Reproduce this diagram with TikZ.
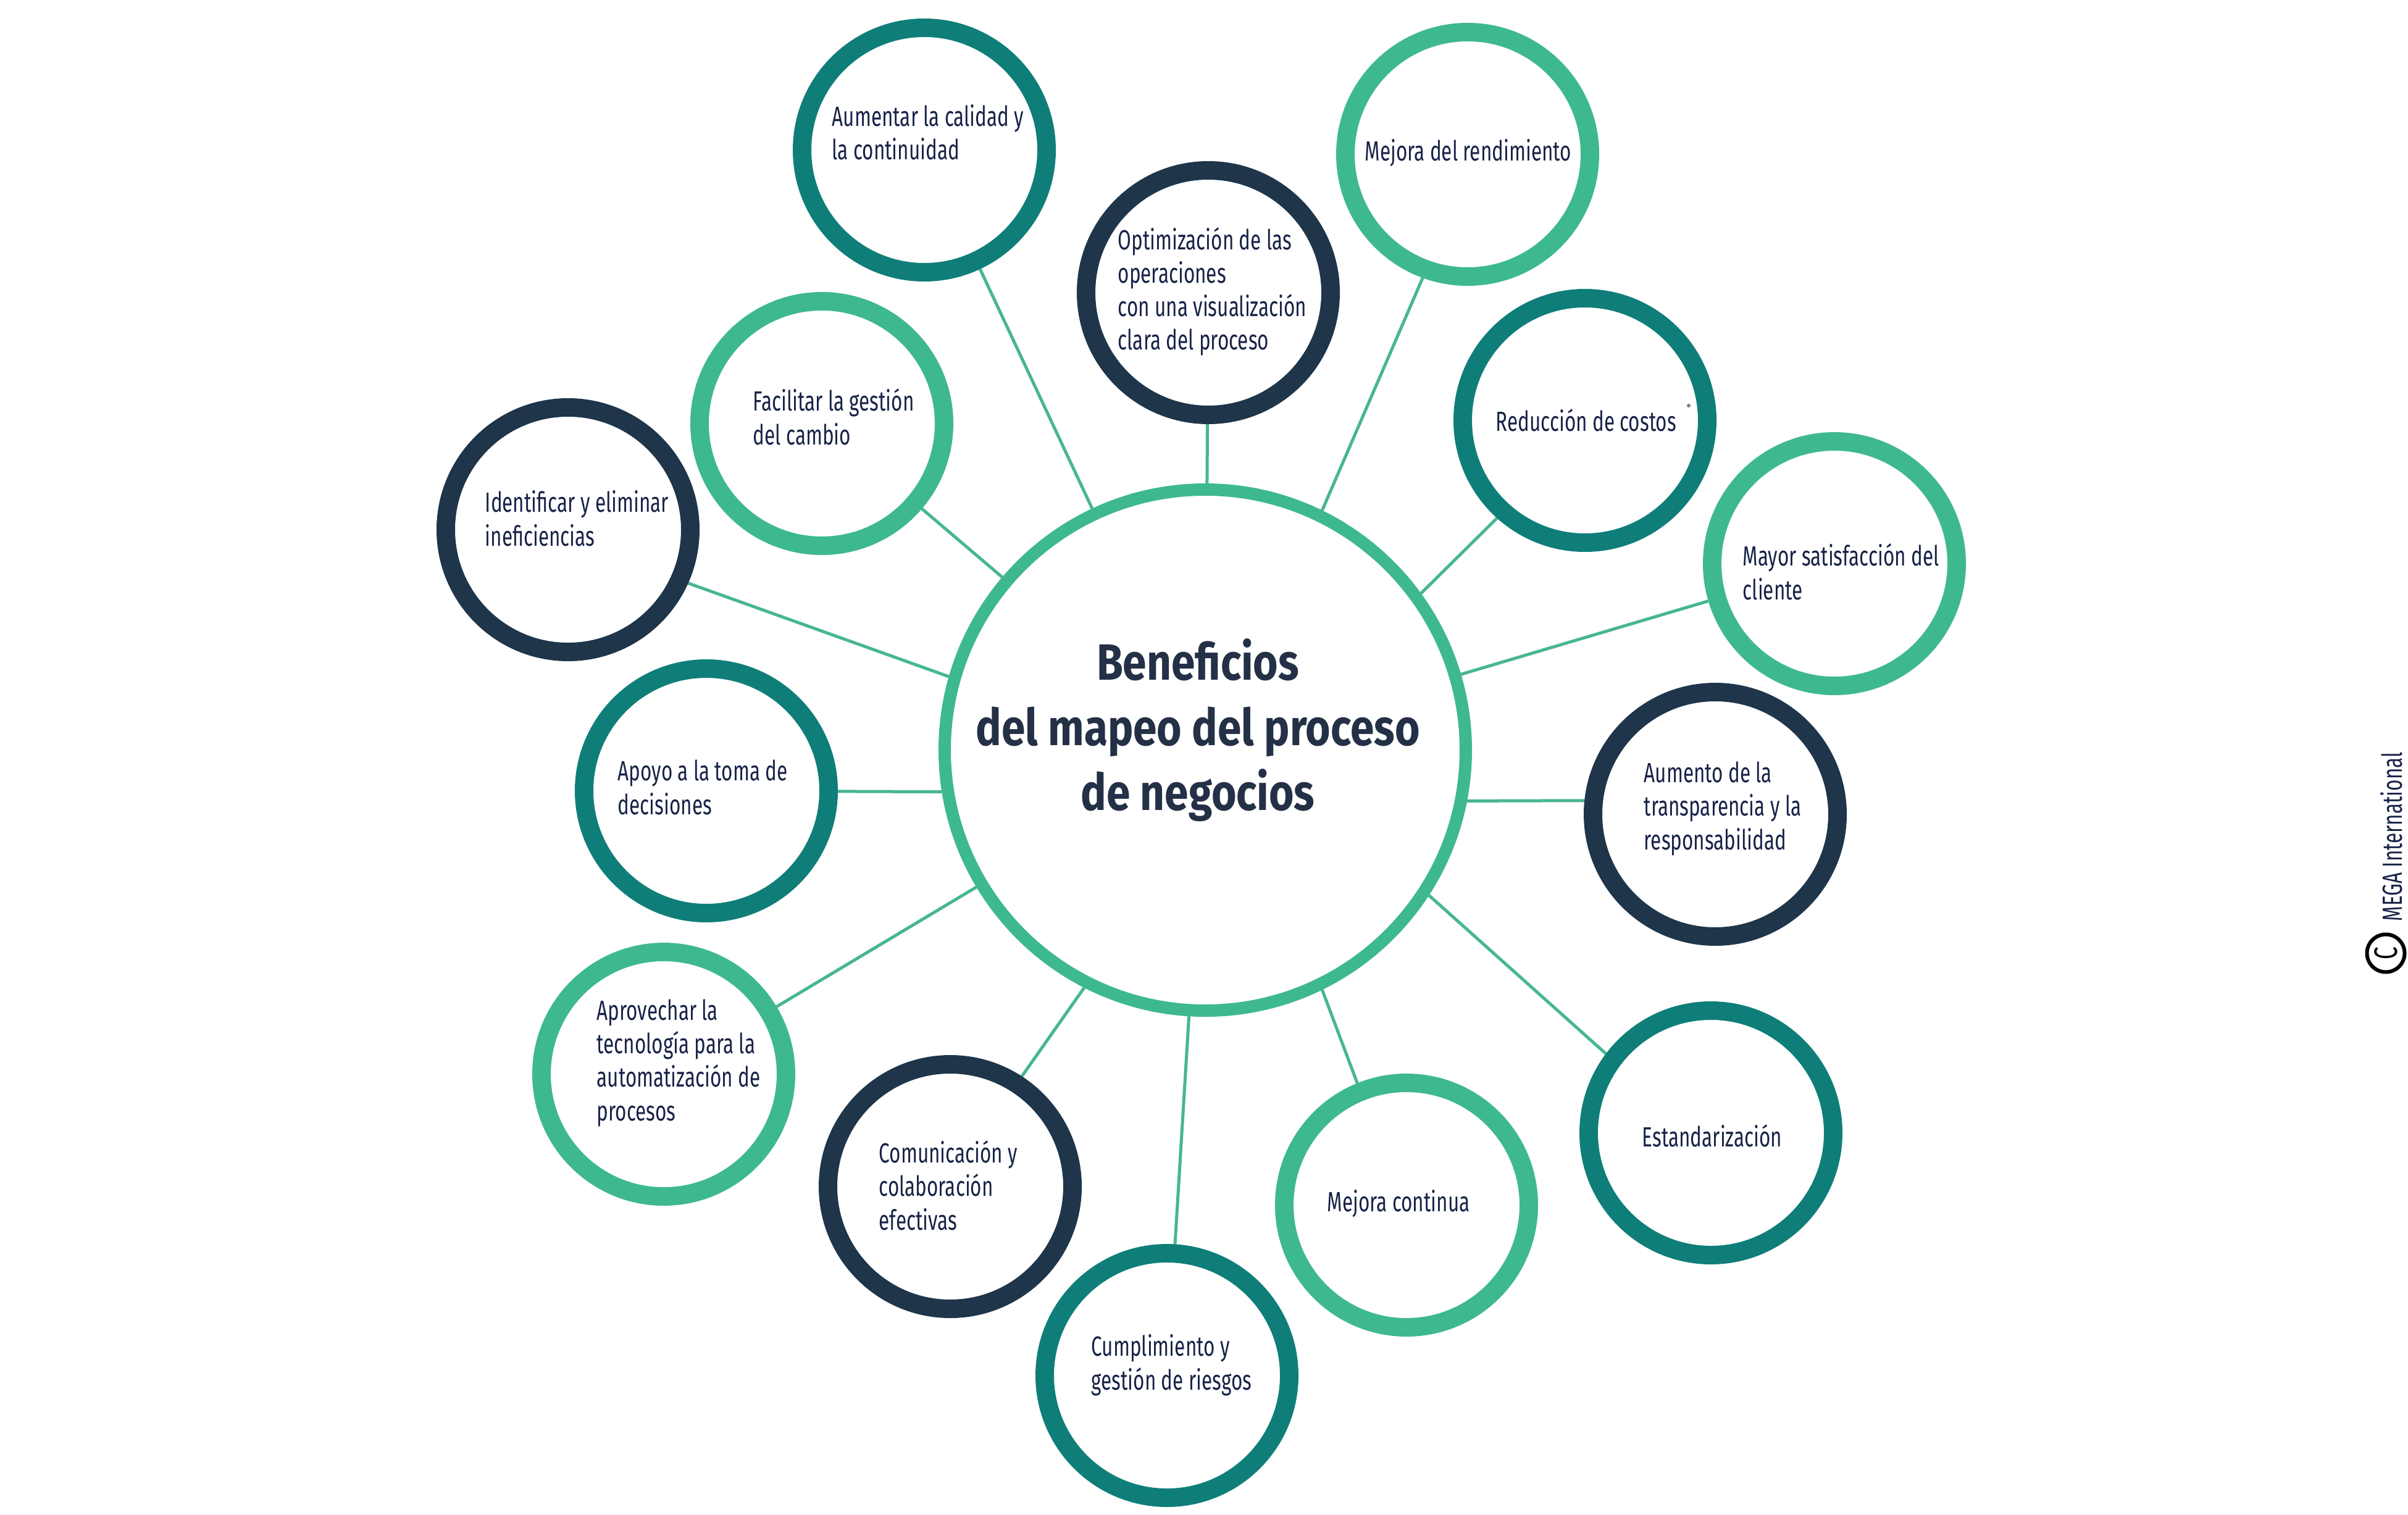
\documentclass[tikz,border=0pt]{standalone}
\usepackage{fontspec}
\setmainfont{Fira Sans}[FakeStretch=0.7]
\newfontfamily\titlefont{Fira Sans}[FakeStretch=0.84]
\usetikzlibrary{backgrounds}
\definecolor{ringteal}{RGB}{15,126,121}
\definecolor{ringgreen}{RGB}{62,185,141}
\definecolor{ringnavy}{RGB}{30,53,74}
\definecolor{linkgreen}{RGB}{72,182,146}
\definecolor{txtnavy}{RGB}{24,35,72}
\definecolor{titlenavy}{RGB}{36,48,70}

\begin{document}
\begin{tikzpicture}[
  hub/.style={circle, draw=ringgreen, line width=0.2cm, fill=white,
              minimum size=8.44cm, inner sep=0pt},
  ring/.style={circle, line width=0.3cm, fill=white, minimum size=3.96cm,
               inner sep=0pt},
  rteal/.style={ring, draw=ringteal},
  rgreen/.style={ring, draw=ringgreen},
  rnavy/.style={ring, draw=ringnavy},
  txt/.style={anchor=base west, align=left, inner sep=0pt, text=txtnavy,
              font={\fontsize{12.8}{15.4}\selectfont}},
  link/.style={draw=linkgreen, line width=0.05cm}
]
\useasboundingbox (0,0) rectangle (39,-24.54);

% ---- hub
\node[hub] (hub) at (19.52,-12.15) {};
\node[font={\titlefont\bfseries\fontsize{23.5}{30}\selectfont},
      text=titlenavy, align=center] (titulo) at (19.40,-11.83)
  {Beneficios\\ del mapeo del proceso\\ de negocios};

% ---- benefit rings
\node[rteal]  (calidad) at (14.97,-2.43) {};
\node[rnavy]  (operac)  at (19.57,-4.74) {};
\node[rgreen] (rendim)  at (23.77,-2.50) {};
\node[rgreen] (cambio)  at (13.31,-6.86) {};
\node[rteal]  (costos)  at (25.67,-6.81) {};
\node[rnavy]  (inefic)  at (9.20,-8.58) {};
\node[rgreen] (cliente) at (29.71,-9.13) {};
\node[rteal]  (decis)   at (11.44,-12.81) {};
\node[rnavy]  (transp)  at (27.78,-13.19) {};
\node[rgreen] (tecno)   at (10.75,-17.40) {};
\node[rteal]  (estand)  at (27.71,-18.35) {};
\node[rnavy]  (comun)   at (15.39,-19.22) {};
\node[rgreen] (mejora)  at (22.78,-19.52) {};
\node[rteal]  (riesgo)  at (18.90,-22.28) {};

% ---- ring texts (placed at the baseline of their last line)
\node[txt] (calidad-t) at (13.47,-2.59) {Aumentar la calidad y\\ la continuidad};
\node[txt] (operac-t) at (18.10,-5.67) {Optimización de las\\ operaciones\\
  con una visualización\\ clara del proceso};
\node[txt] (rendim-t) at (22.10,-2.61) {Mejora del rendimiento};
\node[txt] (cambio-t) at (12.19,-7.20) {Facilitar la gestión\\ del cambio};
\node[txt] (costos-t) at (24.22,-6.98) {Reducción de costos};
\node[txt] (inefic-t) at (7.85,-8.84) {Identificar y eliminar\\ ineficiencias};
\node[txt] (cliente-t) at (28.22,-9.71) {Mayor satisfacción del\\ cliente};
\node[txt] (decis-t) at (10.00,-13.19) {Apoyo a la toma de\\ decisiones};
\node[txt] (transp-t) at (26.62,-13.76) {Aumento de la\\ transparencia y la\\
  responsabilidad};
\node[txt] (tecno-t) at (9.66,-18.15) {Aprovechar la\\ tecnología para la\\
  automatización de\\ procesos};
\node[txt] (estand-t) at (26.59,-18.57) {Estandarización};
\node[txt] (comun-t) at (14.23,-19.92) {Comunicación y\\ colaboración\\ efectivas};
\node[txt] (mejora-t) at (21.49,-19.62) {Mejora continua};
\node[txt] (riesgo-t) at (17.67,-22.51) {Cumplimiento y\\ gestión de riesgos};
\fill[gray] (27.35,-6.57) circle (0.03);

% ---- spokes
\begin{scope}[on background layer]
\fill[white] (0,0) rectangle (39,-24.54);
\draw[link] (hub) -- (calidad);
\draw[link] (hub) -- (operac);
\draw[link] (hub.64) -- (rendim.250);
\draw[link] (hub) -- (cambio);
\draw[link] (hub.36) -- (costos.228);
\draw[link] (hub.164) -- (inefic.-24);
\draw[link] (hub) -- (cliente);
\draw[link] (hub.189) -- (decis);
\draw[link] (hub.-11) -- (transp.174);
\draw[link] (hub) -- (tecno);
\draw[link] (hub.-33) -- (estand.143);
\draw[link] (hub.243) -- (comun.57);
\draw[link] (hub.-64) -- (mejora.112);
\draw[link] (hub) -- (riesgo);
\end{scope}

% ---- credit
\node[txt, rotate=90] (mega) at (38.90,-14.93) {MEGA International};
\node[circle, draw=black, line width=0.06cm, minimum size=0.61cm, inner sep=0pt,
      rotate=90, font={\fontsize{15}{15}\selectfont}] (copy) at (38.64,-15.44) {C};
\end{tikzpicture}
\end{document}
